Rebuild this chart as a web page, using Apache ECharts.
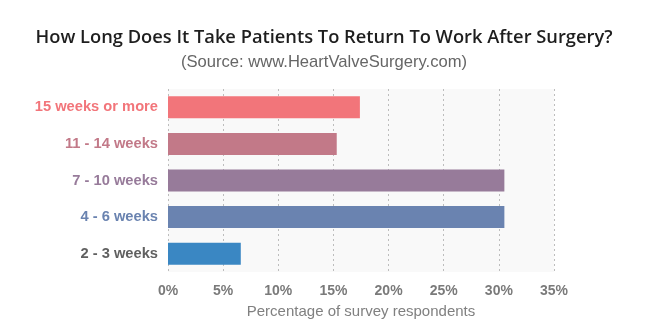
<!DOCTYPE html>
<html>
<head>
<meta charset="utf-8">
<script src="https://cdn.jsdelivr.net/npm/echarts@6/dist/echarts.min.js"></script>
<style>
html,body{margin:0;padding:0;background:#fff;}
#chart{width:648px;height:324px;}
</style>
</head>
<body>
<div id="chart"></div>
<script>
var categories = ['15 weeks or more', '11 - 14 weeks', '7 - 10 weeks', '4 - 6 weeks', '2 - 3 weeks'];
var values = [17.4, 15.3, 30.5, 30.5, 6.6];
var barColors = ['#f2757a', '#c27988', '#977b9a', '#6a83b0', '#3a87c3'];
var labelColors = ['#f2757a', '#c27988', '#977b9a', '#6a83b0', '#606060'];
var tickValues = [0, 5, 10, 15, 20, 25, 30, 35];

var chart = echarts.init(document.getElementById('chart'), null, {renderer: 'canvas'});
chart.setOption({
  animation: false,
  backgroundColor: '#ffffff',
  title: {
    left: 'center',
    top: 22,
    text: 'How Long Does It Take Patients To Return To Work After Surgery?',
    subtext: '(Source: www.HeartValveSurgery.com)',
    itemGap: 3,
    textStyle: {fontFamily: 'Open Sans', fontWeight: 600, fontSize: 18.3, color: '#1e1e1e', lineHeight: 22},
    subtextStyle: {fontFamily: 'Liberation Sans', fontSize: 16.6, color: '#666666', lineHeight: 20}
  },
  grid: {
    left: 168, right: 94, top: 89, bottom: 52,
    outerBoundsMode: 'none',
    containLabel: false,
    show: true, backgroundColor: '#f9f9f9', borderWidth: 0
  },
  xAxis: {
    type: 'value',
    min: tickValues[0],
    max: tickValues[tickValues.length - 1],
    interval: 5,
    axisLine: {show: false},
    axisTick: {show: false},
    splitLine: {show: true, lineStyle: {color: '#bdbdbd', type: [2, 3], width: 1}},
    axisLabel: {
      formatter: '{value}%',
      margin: 12,
      fontFamily: 'Liberation Sans', fontWeight: 'bold', fontSize: 14, color: '#7a7a7a'
    },
    name: 'Percentage of survey respondents',
    nameLocation: 'middle',
    nameGap: 32,
    nameTextStyle: {fontFamily: 'Liberation Sans', fontSize: 15, color: '#808080', verticalAlign: 'top'}
  },
  yAxis: {
    type: 'category',
    inverse: true,
    data: categories,
    axisLine: {show: false},
    axisTick: {show: false},
    splitLine: {show: false},
    axisLabel: {
      margin: 10,
      fontFamily: 'Liberation Sans', fontWeight: 'bold', fontSize: 14.7,
      color: function (value, index) { return labelColors[categories.indexOf(value)]; }
    }
  },
  series: [{
    type: 'bar',
    barWidth: 22,
    data: values.map(function (v, i) { return {value: v, itemStyle: {color: barColors[i]}}; })
  }]
});
</script>
</body>
</html>
